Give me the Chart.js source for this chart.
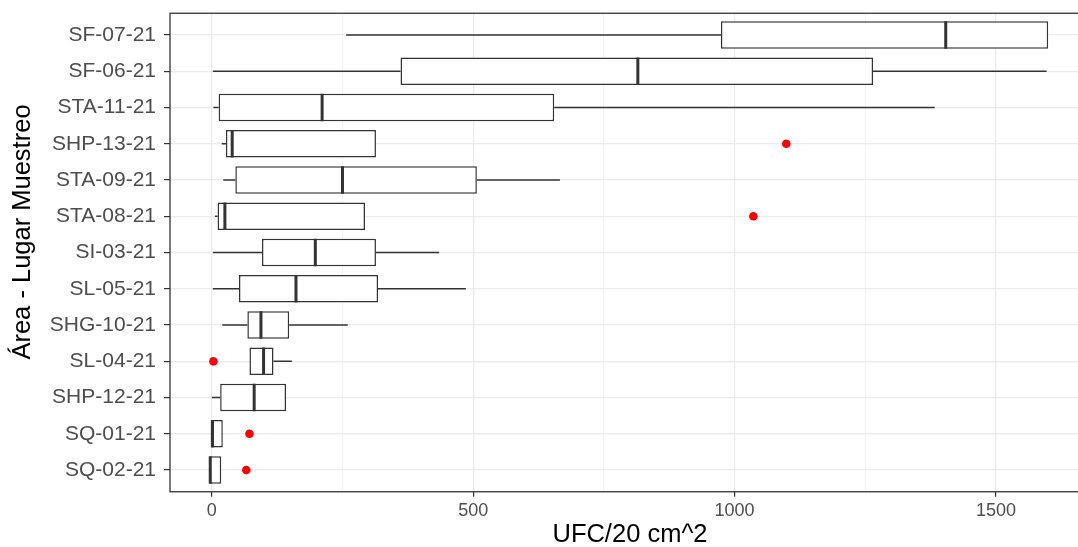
<!DOCTYPE html>
<html lang="es">
<head>
    <meta charset="UTF-8">
    <title>UFC por lugar de muestreo</title>
    <script src="https://cdn.jsdelivr.net/npm/chart.js"></script>
    <style>
        html, body { margin: 0; padding: 0; overflow: hidden; background: #fff; }
        #wrap { width: 1100px; height: 547px; }
    </style>
</head>
<body>
<div id="wrap"><canvas id="myChart"></canvas></div>

<script>
    // categorias, de arriba hacia abajo
    const categories = ['SF-07-21', 'SF-06-21', 'STA-11-21', 'SHP-13-21', 'STA-09-21', 'STA-08-21',
        'SI-03-21', 'SL-05-21', 'SHG-10-21', 'SL-04-21', 'SHP-12-21', 'SQ-01-21', 'SQ-02-21'];

    // resumen de cada caja (UFC/20 cm^2)
    const mins    = [257,   2,    3,  19,  22,   6,   2,   2,  20,  72,   0,  0, -4];
    const q1      = [974,   361,  13,  27,  45,  11,  96,  52,  68,  72,  16,  0, -4];
    const medians = [1404,  815, 211,  39, 250,  25, 198, 161,  94,  99,  81,  1, -3];
    const q3      = [1600, 1265, 655, 314, 507, 293, 314, 318, 148, 118, 142, 21, 18];
    const maxs    = [1600, 1597, 1383, 314, 666, 293, 435, 486, 260, 153, 142, 21, 18];

    // valores atipicos
    const outlierCats   = ['SHP-13-21', 'STA-08-21', 'SL-04-21', 'SQ-01-21', 'SQ-02-21'];
    const outlierValues = [1099, 1036, 3, 72, 66];

    const xTicks = [0, 250, 500, 750, 1000, 1250, 1500];

    const lineCol = '#333333';
    const fontFam = '"Liberation Sans", Arial, sans-serif';

    function hline(ctx, x1, x2, y) {
        ctx.beginPath();
        ctx.moveTo(x1, y);
        ctx.lineTo(x2, y);
        ctx.stroke();
    }

    const boxExtras = {
        id: 'boxExtras',
        beforeDatasetsDraw(chart) {
            const ctx = chart.ctx;
            const x = chart.scales.x, y = chart.scales.y;
            ctx.save();
            ctx.strokeStyle = lineCol;
            ctx.lineWidth = 1.5;
            categories.forEach((c, i) => {
                const yy = y.getPixelForValue(i);
                if (mins[i] < q1[i]) hline(ctx, x.getPixelForValue(mins[i]), x.getPixelForValue(q1[i]), yy);
                if (maxs[i] > q3[i]) hline(ctx, x.getPixelForValue(q3[i]), x.getPixelForValue(maxs[i]), yy);
            });
            ctx.restore();
        },
        afterDatasetsDraw(chart) {
            const ctx = chart.ctx;
            const x = chart.scales.x, y = chart.scales.y;
            const bars = chart.getDatasetMeta(0).data;
            ctx.save();
            ctx.strokeStyle = lineCol;
            ctx.lineWidth = 3;
            categories.forEach((c, i) => {
                const yy = y.getPixelForValue(i);
                const h = bars[i].height / 2;
                const xm = x.getPixelForValue(medians[i]);
                ctx.beginPath();
                ctx.moveTo(xm, yy - h);
                ctx.lineTo(xm, yy + h);
                ctx.stroke();
            });
            // borde del panel
            const a = chart.chartArea;
            ctx.lineWidth = 1.3;
            ctx.strokeRect(a.left, a.top, a.right - a.left, a.bottom - a.top);

            // titulo del eje y
            ctx.fillStyle = '#000';
            ctx.font = '25.5px ' + fontFam;
            ctx.textAlign = 'center';
            ctx.textBaseline = 'middle';
            ctx.translate(23, 232);
            ctx.rotate(-Math.PI / 2);
            ctx.fillText('Área - Lugar Muestreo', 0, 0);
            ctx.restore();
        }
    };

    const ctx = document.getElementById('myChart').getContext('2d');

    new Chart(ctx, {
        type: 'bar',
        data: {
            datasets: [{
                type: 'bar',
                data: categories.map((c, i) => ({y: i, x: [q1[i], q3[i]]})),
                backgroundColor: '#ffffff',
                borderColor: lineCol,
                borderWidth: 1.5,
                borderSkipped: false,
                categoryPercentage: 1,
                barPercentage: 0.76
            }, {
                type: 'scatter',
                data: outlierCats.map((c, i) => ({y: categories.indexOf(c), x: outlierValues[i]})),
                backgroundColor: '#ff0000',
                borderWidth: 0,
                pointRadius: 4.3
            }]
        },
        options: {
            indexAxis: 'y',
            responsive: true,
            maintainAspectRatio: false,
            animation: false,
            layout: {padding: {top: 13.25, right: 10, left: 0, bottom: 0}},
            plugins: {
                legend: {display: false},
                tooltip: {enabled: false}
            },
            scales: {
                x: {
                    type: 'linear',
                    min: -80,
                    max: 1680,
                    afterBuildTicks: s => { s.ticks = xTicks.map(v => ({value: v})); },
                    afterFit: s => { s.height = 55.25; s.paddingLeft = 0; s.paddingRight = 0; },
                    grid: {
                        color: '#ebebeb',
                        lineWidth: c => (c.tick && c.tick.value % 500 === 0) ? 1.2 : 0.6,
                        tickColor: c => (c.tick && c.tick.value % 500 === 0) ? lineCol : 'rgba(0,0,0,0)',
                        tickLength: 5,
                        tickWidth: 1.2
                    },
                    border: {display: false},
                    ticks: {
                        padding: 3,
                        maxRotation: 0,
                        autoSkip: false,
                        color: '#4d4d4d',
                        font: {family: fontFam, size: 18},
                        callback: v => v % 500 === 0 ? String(v) : ''
                    },
                    title: {
                        display: true,
                        text: 'UFC/20 cm^2',
                        color: '#000',
                        padding: {top: 0, bottom: 0},
                        font: {family: fontFam, size: 25.5, lineHeight: 0.95}
                    }
                },
                y: {
                    type: 'linear',
                    reverse: true,
                    offset: false,
                    min: -0.6,
                    max: 12.6,
                    afterBuildTicks: s => { s.ticks = categories.map((c, i) => ({value: i})); },
                    afterFit: s => { s.width = 170; s.paddingTop = 0; s.paddingBottom = 0; },
                    grid: {
                        offset: false,
                        color: '#ebebeb',
                        lineWidth: 1.2,
                        tickColor: lineCol,
                        tickLength: 6,
                        tickWidth: 1.2
                    },
                    border: {display: false},
                    ticks: {
                        padding: 8,
                        autoSkip: false,
                        color: '#4d4d4d',
                        font: {family: fontFam, size: 21},
                        callback: v => categories[v]
                    }
                }
            }
        },
        plugins: [boxExtras]
    });
</script>
</body>
</html>
